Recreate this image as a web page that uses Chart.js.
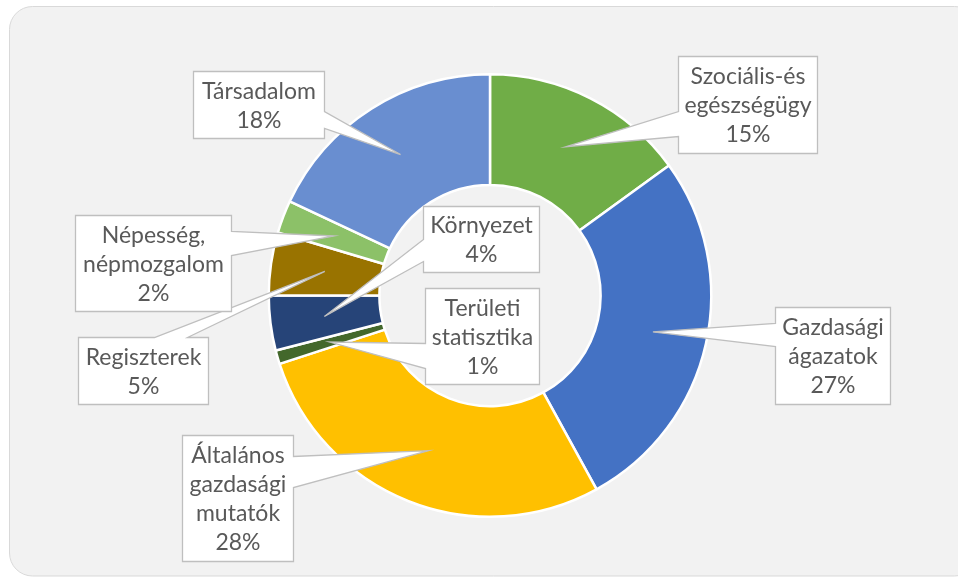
<!DOCTYPE html>
<html>
<head>
<meta charset="utf-8">
<script src="https://cdn.jsdelivr.net/npm/chart.js@4/dist/chart.umd.min.js"></script>
<style>
  html, body { margin: 0; padding: 0; background: #ffffff; }
  #wrap { position: relative; width: 958px; height: 577px; }
</style>
</head>
<body>
<div id="wrap"><canvas id="c"></canvas></div>
<script>
// ---- data ----
const categories = [
  'Szociális-és\negészségügy',
  'Gazdasági\nágazatok',
  'Általános\ngazdasági\nmutatók',
  'Területi\nstatisztika',
  'Környezet',
  'Regiszterek',
  'Népesség,\nnépmozgalom',
  'Társadalom'
];
const shares = [15, 27, 28, 1, 4, 4.6, 2.4, 18];
const colors = ['#70AD47', '#4472C4', '#FFC000', '#43682B', '#264478', '#997300', '#8CC168', '#698ED0'];

// ---- callout layout (box positions and wedge base on a side) ----
const calloutLayout = [
  { x: 678.5, y: 56.5,  w: 139, h: 97,  side: 'left',  b1: 111.5, b2: 136.5 },
  { x: 775.5, y: 307.5, w: 115, h: 97,  side: 'left',  b1: 323.5, b2: 346.5 },
  { x: 182.5, y: 435.5, w: 111, h: 126, side: 'right', b1: 456.5, b2: 487.5 },
  { x: 425.5, y: 288.5, w: 114, h: 96,  side: 'left',  b1: 343.5, b2: 368.5 },
  { x: 423.5, y: 206.5, w: 116, h: 66,  side: 'left',  b1: 239.5, b2: 261.5 },
  { x: 78.5,  y: 337.5, w: 130, h: 67,  side: 'top',   b1: 154.5, b2: 187.5 },
  { x: 75.5,  y: 215.5, w: 156, h: 96,  side: 'right', b1: 231.5, b2: 255.5 },
  { x: 193.5, y: 71.5,  w: 131, h: 67,  side: 'right', b1: 111.5, b2: 128.5 }
];

const cardPlugin = {
  id: 'card',
  beforeDraw(chart) {
    const ctx = chart.ctx;
    const x = 9.5, y = 6.5, w = 968, h = 569.5, r = 23;
    ctx.save();
    ctx.beginPath();
    ctx.moveTo(x + r, y);
    ctx.lineTo(x + w - r, y);
    ctx.arcTo(x + w, y, x + w, y + r, r);
    ctx.lineTo(x + w, y + h - r);
    ctx.arcTo(x + w, y + h, x + w - r, y + h, r);
    ctx.lineTo(x + r, y + h);
    ctx.arcTo(x, y + h, x, y + h - r, r);
    ctx.lineTo(x, y + r);
    ctx.arcTo(x, y, x + r, y, r);
    ctx.closePath();
    ctx.fillStyle = '#F2F2F2';
    ctx.fill();
    ctx.strokeStyle = '#D9D9D9';
    ctx.lineWidth = 1;
    ctx.stroke();
    ctx.restore();
  }
};

const calloutPlugin = {
  id: 'callouts',
  afterDatasetsDraw(chart) {
    const ctx = chart.ctx;
    const meta = chart.getDatasetMeta(0);
    const total = shares.reduce((a, b) => a + b, 0);
    meta.data.forEach((arc, i) => {
      const p = arc.getProps(['x', 'y', 'startAngle', 'endAngle', 'innerRadius', 'outerRadius'], true);
      const a = (p.startAngle + p.endAngle) / 2;
      const rr = (p.innerRadius + p.outerRadius) / 2 + 1;
      const tx = p.x + Math.cos(a) * rr;
      const ty = p.y + Math.sin(a) * rr;
      const L = calloutLayout[i];
      const { x, y, w, h } = L;
      ctx.save();
      ctx.beginPath();
      if (L.side === 'left') {
        ctx.moveTo(x, y);
        ctx.lineTo(x + w, y);
        ctx.lineTo(x + w, y + h);
        ctx.lineTo(x, y + h);
        ctx.lineTo(x, L.b2);
        ctx.lineTo(tx, ty);
        ctx.lineTo(x, L.b1);
      } else if (L.side === 'right') {
        ctx.moveTo(x, y);
        ctx.lineTo(x + w, y);
        ctx.lineTo(x + w, L.b1);
        ctx.lineTo(tx, ty);
        ctx.lineTo(x + w, L.b2);
        ctx.lineTo(x + w, y + h);
        ctx.lineTo(x, y + h);
      } else {
        ctx.moveTo(x, y);
        ctx.lineTo(L.b1, y);
        ctx.lineTo(tx, ty);
        ctx.lineTo(L.b2, y);
        ctx.lineTo(x + w, y);
        ctx.lineTo(x + w, y + h);
        ctx.lineTo(x, y + h);
      }
      ctx.closePath();
      ctx.fillStyle = '#FFFFFF';
      ctx.fill();
      ctx.strokeStyle = '#BFBFBF';
      ctx.lineWidth = 1.3;
      ctx.lineJoin = 'miter';
      ctx.stroke();

      const pct = Math.round(shares[i] / total * 100) + '%';
      const lines = categories[i].split('\n').concat([pct]);
      const lh = 29;
      ctx.fillStyle = '#595959';
      ctx.font = '23px Lato, "Open Sans", sans-serif';
      ctx.textAlign = 'center';
      ctx.textBaseline = 'alphabetic';
      const top = y + (h - lines.length * lh) / 2;
      lines.forEach((t, k) => {
        ctx.fillText(t, x + w / 2, top + lh * k + 22.5);
      });
      ctx.restore();
    });
  }
};

new Chart(document.getElementById('c'), {
  type: 'doughnut',
  data: {
    labels: categories,
    datasets: [{
      data: shares,
      backgroundColor: colors,
      borderColor: '#FFFFFF',
      borderWidth: 2.5
    }]
  },
  options: {
    responsive: true,
    maintainAspectRatio: false,
    animation: false,
    cutout: '50%',
    layout: { padding: { left: 267.5, right: 245.5, top: 73, bottom: 59 } },
    plugins: {
      legend: { display: false },
      tooltip: { enabled: false }
    }
  },
  plugins: [cardPlugin, calloutPlugin]
});
</script>
</body>
</html>
